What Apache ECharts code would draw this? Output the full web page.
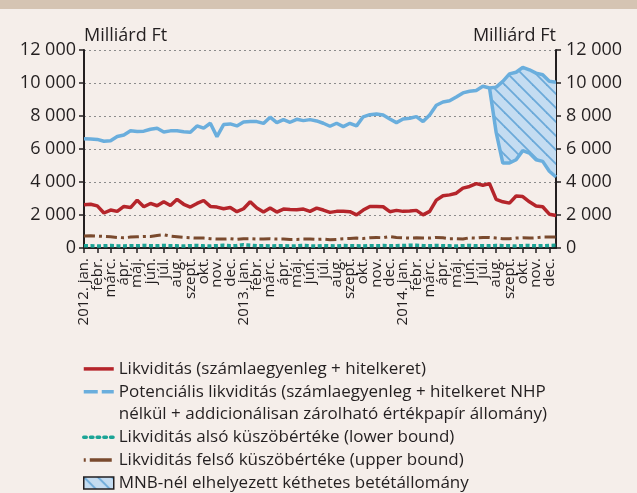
<!DOCTYPE html>
<html>
<head>
<meta charset="utf-8">
<script src="https://cdn.jsdelivr.net/npm/echarts@6/dist/echarts.min.js"></script>
<style>
  html, body { margin: 0; padding: 0; background: #f5eeea; }
  #chart { width: 637px; height: 493px; }
</style>
</head>
<body>
<div id="chart"></div>
<script>
//--------------------- Data (half-month steps, 2012 jan. - 2014 dec.) ---------------------//
const years = ['2012.', '2013.', '2014.'];
const months = ['jan.', 'febr.', 'márc.', 'ápr.', 'máj.', 'jún.', 'júl.', 'aug.', 'szept.', 'okt.', 'nov.', 'dec.'];

// Likviditás (számlaegyenleg + hitelkeret)
const liquidity = [
  2620, 2650, 2550, 2120, 2300, 2220, 2520, 2450, 2900, 2500, 2700, 2560,
  2800, 2580, 2950, 2650, 2480, 2700, 2880, 2520, 2480, 2380, 2450, 2200,
  2380, 2800, 2420, 2180, 2420, 2180, 2360, 2330, 2320, 2360, 2220, 2420,
  2300, 2160, 2220, 2220, 2200, 2010, 2300, 2520, 2520, 2500, 2200, 2280,
  2220, 2240, 2280, 2010, 2220, 2900, 3170, 3220, 3320, 3630, 3730, 3900,
  3800, 3900, 2950, 2800, 2720, 3150, 3120, 2800, 2550, 2500, 2050, 1970
];
// Potenciális likviditás (upper edge after the split)
const potential = [
  6620, 6600, 6580, 6470, 6500, 6760, 6850, 7100, 7060, 7080, 7200, 7260,
  7030, 7100, 7100, 7050, 7020, 7400, 7260, 7560, 6750, 7480, 7520, 7400,
  7640, 7660, 7660, 7550, 7930, 7600, 7780, 7620, 7800, 7720, 7780, 7700,
  7560, 7380, 7560, 7360, 7560, 7400, 7950, 8080, 8120, 8060, 7820, 7600,
  7820, 7860, 7960, 7660, 8060, 8650, 8850, 8920, 9150, 9400, 9500, 9550,
  9800, 9700, 9750, 10100, 10550, 10650, 10950, 10800, 10600, 10500, 10100, 10050
];
// Potenciális likviditás without the two-week deposit (lower edge)
const potentialLow = [
  '-', '-', '-', '-', '-', '-', '-', '-', '-', '-', '-', '-',
  '-', '-', '-', '-', '-', '-', '-', '-', '-', '-', '-', '-',
  '-', '-', '-', '-', '-', '-', '-', '-', '-', '-', '-', '-',
  '-', '-', '-', '-', '-', '-', '-', '-', '-', '-', '-', '-',
  '-', '-', '-', '-', '-', '-', '-', '-', '-', '-', '-', '-',
  '-', 9700, 7000, 5150, 5150, 5350, 5900, 5750, 5350, 5250, 4650, 4300
];
// Likviditás alsó küszöbértéke
const lowerBound = [
  130, 140, 120, 130, 150, 130, 120, 140, 130, 150, 140, 130,
  150, 140, 130, 120, 140, 150, 130, 120, 140, 160, 130, 150,
  200, 160, 130, 140, 120, 130, 140, 120, 130, 150, 130, 120,
  140, 130, 120, 150, 140, 130, 120, 140, 130, 150, 130, 140,
  150, 170, 160, 140, 130, 150, 140, 130, 120, 140, 150, 130,
  140, 130, 150, 140, 130, 120, 140, 150, 130, 140, 150, 160
];
// Likviditás felső küszöbértéke
const upperBound = [
  720, 740, 720, 700, 680, 640, 620, 660, 680, 700, 700, 760,
  800, 720, 680, 640, 620, 600, 600, 560, 540, 540, 560, 520,
  560, 560, 540, 540, 560, 540, 540, 520, 520, 540, 540, 520,
  540, 500, 520, 560, 580, 600, 580, 620, 640, 620, 700, 640,
  620, 600, 620, 600, 600, 640, 620, 560, 560, 540, 620, 600,
  640, 640, 600, 560, 560, 600, 620, 600, 620, 660, 660, 660
];

const names = {
  liq: 'Likviditás (számlaegyenleg + hitelkeret)',
  pot: 'Potenciális likviditás (számlaegyenleg + hitelkeret NHP',
  pot2: 'nélkül + addicionálisan zárolható értékpapír állomány)',
  low: 'Likviditás alsó küszöbértéke (lower bound)',
  up: 'Likviditás felső küszöbértéke (upper bound)',
  dep: 'MNB-nél elhelyezett kéthetes betétállomány'
};

//--------------------- Helpers ---------------------//
const font = 'Open Sans';
const ink = '#231f20';
const blue = '#6aaedd';
const red = '#b5252b';
const brown = '#7a4a2e';
const teal = '#1ba496';

// month tick labels, one every second half-month slot
const monthLabels = [];
years.forEach(y => months.forEach((m, i) => monthLabels.push(i === 0 ? y + ' ' + m : m)));
const slots = liquidity.map((v, i) => 's' + i);

// deposit = distance between the two blue edges
const deposit = potentialLow.map((v, i) => v === '-' ? '-' : potential[i] - v);

// diagonal hatch fill
function hatch() {
  const n = 14;
  const c = document.createElement('canvas');
  c.width = n; c.height = n;
  const ctx = c.getContext('2d');
  ctx.fillStyle = '#c4dcf1';
  ctx.fillRect(0, 0, n, n);
  ctx.strokeStyle = '#6ba9d9';
  ctx.lineWidth = 1.8;
  [-n, 0, n].forEach(off => {
    ctx.beginPath();
    ctx.moveTo(-2, -2 + off);
    ctx.lineTo(n + 2, n + 2 + off);
    ctx.stroke();
  });
  return { image: c, repeat: 'repeat' };
}
const hatchFill = hatch();

const fmt = v => String(v).replace(/\B(?=(\d{3})+(?!\d))/g, ' ');

const yCommon = {
  type: 'value', min: 0, max: 12000, interval: 2000,
  name: 'Milliárd Ft', nameLocation: 'end', nameGap: 14,
  axisLine: { show: true, lineStyle: { color: ink, width: 2 } },
  axisTick: { show: true, length: 5, lineStyle: { color: ink, width: 1.5 } },
  axisLabel: { color: ink, fontFamily: font, fontSize: 18, formatter: fmt }
};

//--------------------- Chart ---------------------//
const chart = echarts.init(document.getElementById('chart'));
chart.setOption({
  animation: false,
  backgroundColor: '#f5eeea',
  graphic: [{ type: 'rect', shape: { x: 0, y: 0, width: 637, height: 9 }, style: { fill: '#d5c4b3' } }],
  grid: { left: 84, right: 81, top: 50, bottom: 245 },
  legend: {
    orient: 'vertical', left: 82, top: 357.5, height: 140, padding: 0,
    itemWidth: 30, itemHeight: 12, itemGap: 0,
    selectedMode: false,
    itemStyle: { opacity: 0 },
    textStyle: { color: ink, fontFamily: font, fontSize: 17, lineHeight: 22.8 },
    data: [
      { name: names.liq, lineStyle: { width: 3.5 } },
      { name: names.pot, lineStyle: { width: 3.5, type: [14, 4] } },
      { name: names.pot2, icon: 'none' },
      { name: names.low, lineStyle: { type: [2.5, 4.2], cap: 'round', width: 3.5 } },
      { name: names.up, lineStyle: { width: 3.5, type: [2, 4, 20, 0] } },
      { name: names.dep, icon: 'rect', itemStyle: { opacity: 1, color: hatchFill, borderColor: ink, borderWidth: 1.5 } }
    ]
  },
  xAxis: {
    type: 'category', data: slots, boundaryGap: false,
    axisLine: { lineStyle: { color: ink, width: 2 } },
    axisTick: { length: 5, interval: i => i % 2 === 0, lineStyle: { color: ink, width: 1.5 } },
    axisLabel: {
      interval: 0, rotate: 90, margin: 10, color: ink, fontFamily: font, fontSize: 15,
      formatter: (v, i) => i % 2 === 0 ? monthLabels[i / 2] : ''
    }
  },
  yAxis: [
    Object.assign({}, yCommon, {
      position: 'left',
      nameTextStyle: { color: ink, fontFamily: font, fontSize: 18, align: 'left', verticalAlign: 'middle' },
      axisLabel: Object.assign({}, yCommon.axisLabel, { margin: 8 }),
      splitLine: { show: true, lineStyle: { color: '#8c8c8c', width: 1, type: [2, 3] } }
    }),
    Object.assign({}, yCommon, {
      position: 'right',
      nameTextStyle: { color: ink, fontFamily: font, fontSize: 18, align: 'right', verticalAlign: 'middle' },
      axisLabel: Object.assign({}, yCommon.axisLabel, { margin: 10 }),
      splitLine: { show: false }
    })
  ],
  series: [
    {
      name: names.pot2, type: 'line', data: [], symbol: 'none'
    },
    {
      name: 'alsó él', type: 'line', stack: 'dep', data: potentialLow, symbol: 'none',
      lineStyle: { color: blue, width: 3.5 }, itemStyle: { color: blue }, z: 3
    },
    {
      name: names.dep, type: 'line', stack: 'dep', data: deposit, symbol: 'none',
      lineStyle: { width: 0 }, itemStyle: { color: blue },
      areaStyle: { color: hatchFill, opacity: 1 }, z: 1
    },
    {
      name: names.pot, type: 'line', data: potential, symbol: 'none',
      lineStyle: { color: blue, width: 3.5 }, itemStyle: { color: blue }, z: 3
    },
    {
      name: names.liq, type: 'line', data: liquidity, symbol: 'none',
      lineStyle: { color: red, width: 3.5 }, itemStyle: { color: red }, z: 4
    },
    {
      name: names.up, type: 'line', data: upperBound, symbol: 'none',
      lineStyle: { color: brown, width: 3, type: [11, 4, 3, 4] }, itemStyle: { color: brown }, z: 4
    },
    {
      name: names.low, type: 'line', data: lowerBound, symbol: 'none',
      lineStyle: { color: teal, width: 3.5, type: [4, 2.5] }, itemStyle: { color: teal }, z: 5
    }
  ]
});
</script>
</body>
</html>
